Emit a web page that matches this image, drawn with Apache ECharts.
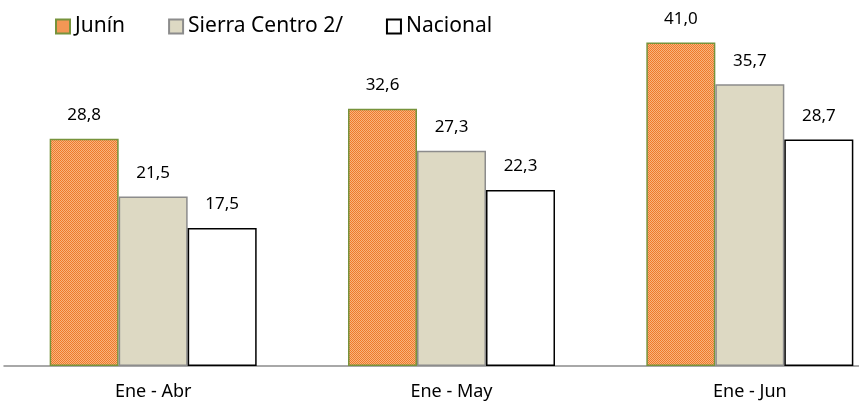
<!DOCTYPE html>
<html>
<head>
<meta charset="utf-8">
<script src="https://cdn.jsdelivr.net/npm/echarts@6/dist/echarts.min.js"></script>
<style>
html, body { margin: 0; padding: 0; background: #fff; }
#chart { width: 859px; height: 402px; }
</style>
</head>
<body>
<div id="chart"></div>
<script>
// datos
var categorias = ['Ene - Abr', 'Ene - May', 'Ene - Jun'];
var junin = [28.8, 32.6, 41.0];
var sierraCentro = [21.5, 27.3, 35.7];
var nacional = [17.5, 22.3, 28.7];

// trama naranja punteada
function tramaNaranja() {
    var c = document.createElement('canvas');
    c.width = 2; c.height = 2;
    var ctx = c.getContext('2d');
    ctx.fillStyle = '#F9B47E';
    ctx.fillRect(0, 0, 2, 2);
    ctx.fillStyle = '#EE7A2C';
    ctx.fillRect(0, 0, 1, 1);
    ctx.fillRect(1, 1, 1, 1);
    return c;
}

var fmt = function (p) {
    return p.value.toFixed(1).replace('.', ',');
};
var fuente = 'Noto Sans';

var myChart = echarts.init(document.getElementById('chart'));
var option = {
    animation: false,
    textStyle: { fontFamily: fuente },
    legend: {
        left: 50,
        top: 11,
        itemWidth: 14,
        itemHeight: 14,
        itemGap: 43,
        textStyle: { fontSize: 21, color: '#000', fontFamily: fuente },
        data: [
            { name: 'Junín', icon: 'rect' },
            { name: 'Sierra Centro 2/', icon: 'rect' },
            { name: 'Nacional', icon: 'rect' }
        ]
    },
    grid: {
        left: 4,
        top: 11,
        bottom: 36,
        width: 895,
        outerBoundsMode: 'none'
    },
    xAxis: {
        type: 'category',
        data: categorias,
        axisLine: { lineStyle: { color: '#8C8C8C', width: 1.5 } },
        axisTick: { length: 6, lineStyle: { color: '#8C8C8C', width: 1.5 } },
        axisLabel: { margin: 17, fontSize: 18, color: '#000', fontFamily: fuente }
    },
    yAxis: {
        type: 'value',
        min: 0,
        max: 45,
        show: false,
        splitLine: { show: false }
    },
    series: [{
        name: 'Junín',
        type: 'bar',
        data: junin,
        barWidth: 69,
        barGap: '0%',
        itemStyle: {
            color: { image: tramaNaranja(), repeat: 'repeat' },
            borderColor: '#77933C',
            borderWidth: 1.5
        },
        label: { show: true, position: 'top', distance: 15, fontSize: 17, color: '#000', formatter: fmt }
    }, {
        name: 'Sierra Centro 2/',
        type: 'bar',
        data: sierraCentro,
        barWidth: 69,
        barGap: '0%',
        itemStyle: { color: '#DDD9C3', borderColor: '#8C8C8C', borderWidth: 1.5 },
        label: { show: true, position: 'top', distance: 15, fontSize: 17, color: '#000', formatter: fmt }
    }, {
        name: 'Nacional',
        type: 'bar',
        data: nacional,
        barWidth: 69,
        barGap: '0%',
        itemStyle: { color: '#FFFFFF', borderColor: '#000000', borderWidth: 1.5 },
        label: { show: true, position: 'top', distance: 15, fontSize: 17, color: '#000', formatter: fmt }
    }]
};
myChart.setOption(option, true);
</script>
</body>
</html>
